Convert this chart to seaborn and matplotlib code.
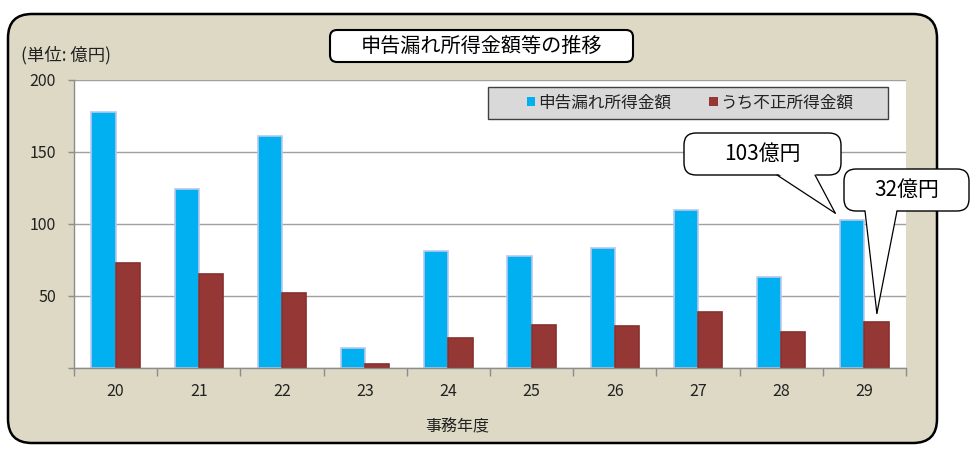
import matplotlib
matplotlib.use('Agg')
import numpy as np
import pandas as pd
import seaborn as sns
import matplotlib.pyplot as plt
from matplotlib.patches import FancyBboxPatch, Rectangle, Polygon
from matplotlib.lines import Line2D

# ---- data ----
years = ['20', '21', '22', '23', '24', '25', '26', '27', '28', '29']
shinkoku = [178, 124, 161, 14, 81, 78, 83, 110, 63, 103]
fusei = [73, 65, 52, 3, 21, 30, 29, 39, 25, 32]
series_names = ['申告漏れ所得金額', 'うち不正所得金額']
yticks = [0, 50, 100, 150, 200]
ytick_labels = ['', '50', '100', '150', '200']
title = '申告漏れ所得金額等の推移'
unit_label = '(単位: 億円)'
xlabel = '事務年度'
callout_texts = ['103億円', '32億円']

colors = ['#00B0F0', '#953735']
edge_colors = ['#B7C9EC', '#86302E']

sns.set_theme(style='white')
plt.rcParams['font.family'] = ['Noto Sans CJK JP', 'DejaVu Sans']

df = pd.DataFrame({
    '年度': years * 2,
    '金額': shinkoku + fusei,
    '系列': [series_names[0]] * len(years) + [series_names[1]] * len(years),
})

W, H = 980, 462
fig = plt.figure(figsize=(W / 100, H / 100), dpi=100)
fig.patch.set_facecolor('white')
T = fig.dpi_scale_trans


def inch(x, y):
    return (x / 100, (H - y) / 100)


# outer rounded panel
outer = FancyBboxPatch(inch(8, 443), (937 - 8) / 100, (443 - 14) / 100,
                       boxstyle='round,pad=0,rounding_size=0.24', transform=T,
                       fc='#DDD9C4', ec='black', lw=1.8, zorder=-5)
fig.add_artist(outer)

ax = fig.add_axes([74 / W, 1 - 368 / H, 832 / W, 288 / H])
ax.set_facecolor('white')

sns.barplot(data=df, x='年度', y='金額', hue='系列', palette=colors,
            width=0.58, saturation=1, linewidth=1.2, ax=ax, legend=False)
for cont, ec in zip(ax.containers, edge_colors):
    for p in cont:
        p.set_edgecolor(ec)

ax.set_xlim(-0.5, len(years) - 0.5)
ax.set_ylim(0, 200)
ax.set_yticks(yticks)
ax.set_yticklabels(ytick_labels)
ax.set_xlabel('')
ax.set_ylabel('')
ax.yaxis.grid(True, color='#A0A0A0', lw=1)
ax.set_axisbelow(True)
for s in ['top', 'right']:
    ax.spines[s].set_visible(False)
for s in ['left', 'bottom']:
    ax.spines[s].set_color('#8C8C8C')
    ax.spines[s].set_linewidth(1)

ax.set_xticks(np.arange(-0.5, len(years), 1), minor=True)
ax.tick_params(axis='x', which='major', length=0, pad=11, labelsize=11.5, labelcolor='#222222')
ax.tick_params(axis='x', which='minor', direction='out', length=5.5, width=1, color='#8C8C8C')
ax.tick_params(axis='y', which='major', direction='out', length=4.5, width=1, color='#8C8C8C',
               pad=8.5, labelsize=11.5, labelcolor='#222222', left=True)
ax.tick_params(axis='x', which='minor', bottom=True)

# legend
leg_box = Rectangle(((488 - 74) / 832, (368 - 119) / 288), 400 / 832, 32 / 288,
                    transform=ax.transAxes, fc='#D9D9D9', ec='#404040', lw=1, zorder=4)
ax.add_patch(leg_box)
handles = [Rectangle((0, 0), 1, 1, fc=c, ec='none') for c in colors]
leg = ax.legend(handles, series_names, ncol=2, loc='center',
                bbox_to_anchor=((690 - 74) / 832, (368 - 103) / 288), frameon=False,
                fontsize=12, handlelength=0.5, handleheight=0.5,
                handletextpad=0.15, columnspacing=2.3)
leg.set_zorder(5)
for t in leg.get_texts():
    t.set_color('#222222')

# title box
tbox = FancyBboxPatch(inch(330, 62), 303 / 100, 32 / 100,
                      boxstyle='round,pad=0,rounding_size=0.07', transform=T,
                      fc='white', ec='black', lw=1.5, zorder=3)
fig.add_artist(tbox)
fig.text(481.5 / W, 1 - 46 / H, title, ha='center', va='center', fontsize=14.5,
         color='black', zorder=4)

fig.text(21 / W, 1 - 55 / H, unit_label, ha='left', va='center', fontsize=12.5, color='#222222')
fig.text(457 / W, 1 - 427 / H, xlabel, ha='center', va='center', fontsize=11.5, color='#222222')

# callouts
fig.canvas.draw()


def bubble(text, l, t, r, b, bx0, bx1, tip_data):
    tx, ty = ax.transData.transform(tip_data)
    tip = (tx / 100, ty / 100)
    box = FancyBboxPatch(inch(l, b), (r - l) / 100, (b - t) / 100,
                         boxstyle='round,pad=0,rounding_size=0.12', transform=T,
                         fc='white', ec='black', lw=1, zorder=20)
    fig.add_artist(box)
    tri = Polygon([inch(bx0, b - 2), inch(bx1, b - 2), tip], closed=True,
                  transform=T, fc='white', ec='none', zorder=21)
    fig.add_artist(tri)
    for bx in (bx0, bx1):
        p0 = inch(bx, b)
        fig.add_artist(Line2D([p0[0], tip[0]], [p0[1], tip[1]], transform=T,
                              color='black', lw=0.9, zorder=22))
    cx, cy = inch((l + r) / 2, (t + b) / 2)
    fig.text(cx, cy, text, transform=T, ha='center', va='center', fontsize=15,
             color='black', zorder=23)


bar_w = 0.29
bubble(callout_texts[0], 684, 133, 841, 175, 777, 815,
       (9 - bar_w - 0.06, shinkoku[9] + 4.5))
bubble(callout_texts[1], 844, 169, 969, 211, 865, 897,
       (9 + bar_w / 2 + 0.005, fusei[9] + 6))

fig.savefig('out.png', dpi=100)
